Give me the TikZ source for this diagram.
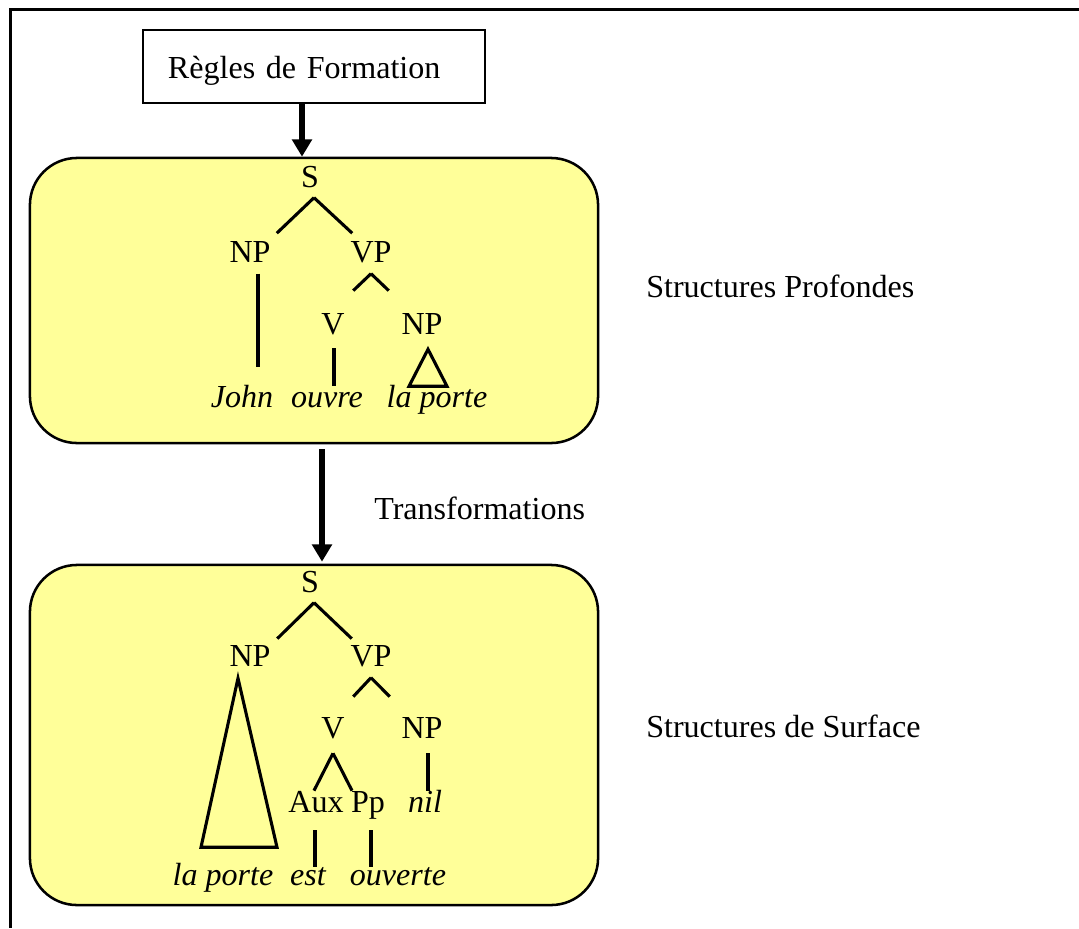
\documentclass[tikz,border=0pt]{standalone}
\usepackage{fontspec}
\setmainfont{Liberation Serif}
\usetikzlibrary{arrows.meta}
\definecolor{boxyellow}{HTML}{FFFF99}

\begin{document}
\begin{tikzpicture}[x=0.025cm,y=-0.025cm,
      font=\fontsize{22.8}{27}\selectfont,
      frame/.style={line width=2.4pt,black},
      rulebox/.style={draw,line width=1.3pt,minimum width=8.55cm,minimum height=1.825cm,
                      inner xsep=0.625cm,inner ysep=0pt,text width=7.3cm,align=left,
                      text height=34pt,text depth=17pt},
      level/.style={draw,line width=1.8pt,rounded corners=1.175cm,fill=boxyellow,
                    minimum width=14.2cm},
      cat/.style={inner sep=0pt,text height=16pt,text depth=4.55pt,anchor=base},
      word/.style={cat,font=\fontsize{22.8}{27}\selectfont\itshape},
      side/.style={inner sep=0pt,anchor=base west},
      branch/.style={line width=2.2pt,line join=miter},
      flow/.style={-{Triangle[length=0.43cm,width=0.48cm]},line width=4pt}]
    \useasboundingbox (0,0) rectangle (1079,928);
    \draw[frame] (1079,9.5) -- (10.5,9.5) -- (10.5,928);
    \node[rulebox] (rf) at (314,66.5) {Règles de Formation};
    \node[level,minimum height=7.125cm] (deep) at (314,300.5) {};
    \node[level,minimum height=8.5cm]   (surf) at (314,735) {};
    \node[side] (deeplab) at (646,297) {Structures Profondes};
    \node[side] (surflab) at (646,737) {Structures de Surface};
    \node[side] (trans)   at (374,519) {Transformations};
    \draw[flow] ([shift={(-12,0)}]rf.south) -- ([shift={(-12,0)}]deep.north);
    \draw[flow] ([shift={(8,5)}]deep.south) -- ([shift={(8,-2)}]surf.north);
    % deep structure
    \node[cat]  (s1)    at (310,187) {S};
    \node[cat]  (np1)   at (250,262) {NP};
    \node[cat]  (vp1)   at (371,262) {VP};
    \node[cat]  (v1)    at (333,334) {V};
    \node[cat]  (np2)   at (422,334) {NP};
    \node[word] (john)  at (242,407) {John};
    \node[word] (ouvre) at (327,407) {ouvre};
    \node[word] (lap1)  at (437,407) {la porte};
    \draw[branch] ([shift={(4,4)}]s1.south) -- ([shift={(6,-6)}]np1.north east);
    \draw[branch] ([shift={(4,4)}]s1.south) -- ([shift={(2,-6)}]vp1.north west);
    \draw[branch] ([shift={(8,5)}]np1.south) -- ([shift={(16,-17)}]john.north);
    \draw[branch] ([shift={(0,5)}]vp1.south) -- ([shift={(8.4,-20.6)}]v1.north east);
    \draw[branch] ([shift={(0,5)}]vp1.south) -- ([shift={(-12.5,-20.6)}]np2.north west);
    \draw[branch] ([shift={(1,7.6)}]v1.south) -- ([shift={(7,1.4)}]ouvre.north);
    \draw[branch] ([shift={(6,8.6)}]np2.south) -- ++(-19,37) -- ++(38,0) -- cycle;
    % surface structure
    \node[cat]  (s2)      at (310,592) {S};
    \node[cat]  (np3)     at (250,666) {NP};
    \node[cat]  (vp2)     at (371,666) {VP};
    \node[cat]  (v2)      at (333,738) {V};
    \node[cat]  (np4)     at (422,738) {NP};
    \node[cat]  (aux)     at (316,812) {Aux};
    \node[cat]  (pp)      at (368,812) {Pp};
    \node[word] (nil)     at (425,812) {nil};
    \node[word] (lap2)    at (223,885) {la porte};
    \node[word] (est)     at (308,885) {est};
    \node[word] (ouverte) at (398,885) {ouverte};
    \draw[branch] ([shift={(4,4)}]s2.south) -- ([shift={(6.5,-4.6)}]np3.north east);
    \draw[branch] ([shift={(4,4)}]s2.south) -- ([shift={(1.5,-4.6)}]vp2.north west);
    \draw[branch] ([shift={(-12,5.6)}]np3.south) -- ++(-37,169) -- ++(76,0) -- cycle;
    \draw[branch] ([shift={(0,5)}]vp2.south) -- ([shift={(8.4,-18.6)}]v2.north east);
    \draw[branch] ([shift={(0,5)}]vp2.south) -- ([shift={(-11.5,-18.6)}]np4.north west);
    \draw[branch] ([shift={(0,8.6)}]v2.south) -- ([shift={(-2,1.4)}]aux.north);
    \draw[branch] ([shift={(0,8.6)}]v2.south) -- ([shift={(-16,1.4)}]pp.north);
    \draw[branch] ([shift={(6,8.6)}]np4.south) -- ([shift={(3,1.4)}]nil.north);
    \draw[branch] ([shift={(-1,11.6)}]aux.south) -- ([shift={(7,4.4)}]est.north);
    \draw[branch] ([shift={(3,11.6)}]pp.south) -- ([shift={(-27,4.4)}]ouverte.north);
  \end{tikzpicture}
\end{document}
